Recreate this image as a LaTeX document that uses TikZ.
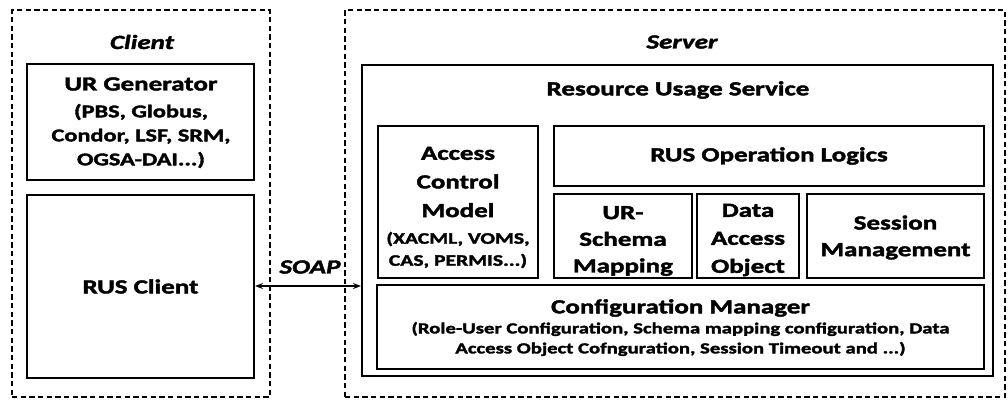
\documentclass[tikz,border=0pt]{standalone}
\usepackage{fontspec}
\setmainfont{Carlito}[
  BoldFeatures={FakeStretch=1.35,FakeBold=2},
  BoldItalicFeatures={FakeStretch=1.35,FakeBold=2}]
\usetikzlibrary{fit,arrows.meta}
\begin{document}
\begin{tikzpicture}[x=0.75pt,y=-0.75pt,
  zone/.style={draw,line width=1pt,dash pattern=on 4pt off 2.5pt,inner sep=0pt},
  blk/.style={draw,line width=1.4pt,inner sep=0pt},
  lbl/.style={align=center,inner sep=0pt,font=\bfseries\fontsize{15}{#1}\selectfont},
  lbl/.default=19,
  note/.style 2 args={align=center,inner sep=0pt,font=\bfseries\fontsize{#1}{#2}\selectfont},
  tag/.style={inner sep=0pt,font=\bfseries\itshape\fontsize{15}{18}\selectfont}]
\useasboundingbox (0,0) rectangle (1008,401);
% dashed zones for the two sides
\node[zone,fit={(12,10) (270,397)}] (client) {};
\node[zone,fit={(345,10) (1005,397)}] (server) {};
\node[tag] (clienttag) at (142,42) {Client};
\node[tag] (servertag) at (682,42) {Server};
% client side blocks
\node[blk,fit={(27,64) (254,180)}] (urgen) {};
\node[lbl] (urgentext) at (141,84) {UR Generator};
\node[note={13.5}{18}] (urgennote) at (141,136) {(PBS, Globus,\\Condor, LSF, SRM,\\OGSA-DAI...)};
\node[blk,fit={(27,195) (254,378)}] (rusclient) {};
\node[lbl] (rusclienttext) at (rusclient.center) {RUS Client};
% server side blocks
\node[blk,fit={(362,65) (993,376)}] (rus) {};
\node[lbl] (rustitle) at (678,90) {Resource Usage Service};
\node[blk,fit={(378,126) (538,278)}] (acm) {};
\node[lbl=21.5] (acmtext) at (458,182) {Access\\Control\\Model};
\node[note={12}{16.5}] (acmnote) at (458,250) {(XACML, VOMS,\\CAS, PERMIS...)};
\node[blk,fit={(554,126) (984,186)}] (ops) {};
\node[lbl] (opstext) at (ops.center) {RUS Operation Logics};
\node[blk,fit={(554,194) (692,278)}] (map) {};
\node[lbl=20] (maptext) at (623,241) {UR-\\Schema\\Mapping};
\node[blk,fit={(697,194) (799,278)}] (dao) {};
\node[lbl=21] (daotext) at (748,240) {Data\\Access\\Object};
\node[blk,fit={(807,194) (984,278)}] (sess) {};
\node[lbl=20] (sesstext) at (895.5,237.5) {Session\\Management};
\node[blk,fit={(377,285) (984,369)}] (conf) {};
\node[lbl] (conftext) at (680.5,308) {Configuration Manager};
\node[note={11.5}{15}] (confnote) at (680.5,339) {(Role-User Configuration, Schema mapping configuration, Data\\Access Object Cofnguration, Session Timeout and ...)};
% SOAP link between client and service
\draw[line width=1.1pt,{Stealth[length=6pt,width=4.5pt]}-{Stealth[length=6pt,width=4.5pt]}]
  (rusclient.east |- 0,286) -- (rus.west |- 0,286);
\node[tag] (soap) at (310,267) {SOAP};
\end{tikzpicture}
\end{document}
